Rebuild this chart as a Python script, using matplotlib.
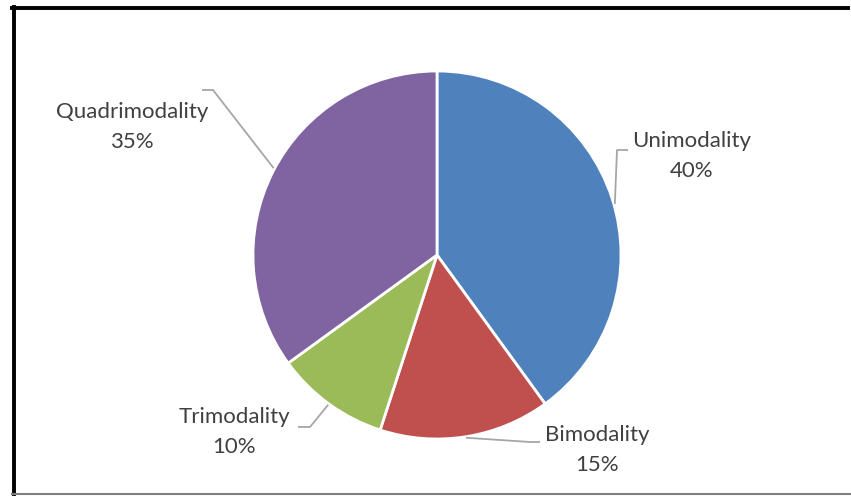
import matplotlib.pyplot as plt
import numpy as np
from matplotlib.lines import Line2D

# данные диаграммы
labels = ["Unimodality", "Bimodality", "Trimodality", "Quadrimodality"]
shares = [40, 15, 10, 35]
colors = ["#4F81BD", "#C0504D", "#9BBB59", "#8064A2"]

W, H = 851, 496
fig = plt.figure(figsize=(W / 100, H / 100), dpi=100)
ax = fig.add_axes([0, 0, 1, 1])

cx, cy, r = 437, H - 255, 184
wedges, _ = ax.pie(shares, colors=colors, startangle=90, counterclock=False,
                   center=(cx, cy), radius=r, frame=True,
                   wedgeprops=dict(edgecolor="white", linewidth=2))
ax.set_xlim(0, W)
ax.set_ylim(0, H)
ax.set_aspect("equal")
ax.axis("off")

# подписи: центр текста, угол привязки линии, излом и конец линии (в пикселях)
text_pos = [(692, 156), (597, 450), (234, 432), (132, 127)]
anchor_ang = [16, -81, -126, 152]
elbow = [(617, 150), (530, 442), (310, 427), (213, 90)]
line_end = [(628, 150), (540, 442), (298, 427), (202, 90)]

for lab, val, tp, ang, el, le in zip(labels, shares, text_pos, anchor_ang, elbow, line_end):
    a = np.deg2rad(ang)
    x0, y0 = cx + (r + 1) * np.cos(a), cy + (r + 1) * np.sin(a)
    ax.plot([x0, el[0], le[0]], [y0, H - el[1], H - le[1]],
            color="#A6A6A6", lw=1.3, solid_capstyle="butt")
    ax.text(tp[0], H - tp[1], f"{lab}\n{val}%", ha="center", va="center",
            fontsize=16, family="Lato", color="#404040", linespacing=1.6)

# рамка
fig.add_artist(Line2D([12 / W, 848 / W], [1 - 8 / H, 1 - 8 / H], color="black", lw=2.8))
fig.add_artist(Line2D([13.5 / W, 13.5 / W], [1 - 7 / H, 1 - 494 / H], color="black", lw=2.8))
fig.add_artist(Line2D([12 / W, W / W], [1 - 494 / H, 1 - 494 / H], color="#7F7F7F", lw=1.5))

fig.savefig("out.png", dpi=100)
